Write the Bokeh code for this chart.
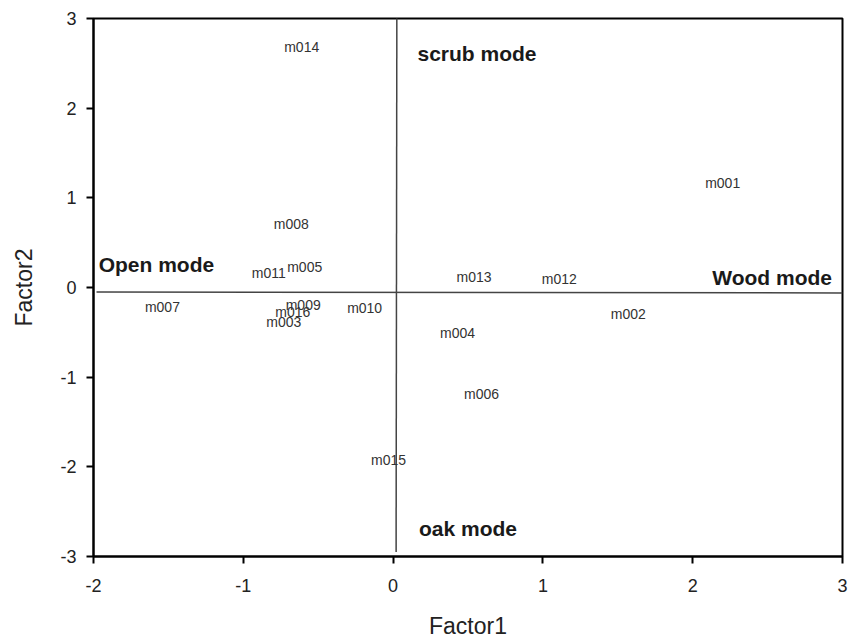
from bokeh.plotting import figure
from bokeh.models import ColumnDataSource, Range1d, FixedTicker, PrintfTickFormatter
from bokeh.core.properties import value
from bokeh.embed import file_html
from bokeh.resources import INLINE

# Site scores (Factor1, Factor2)
sites = ["m001", "m002", "m003", "m004", "m005", "m006", "m007", "m008",
         "m009", "m010", "m011", "m012", "m013", "m014", "m015", "m016"]
factor1 = [2.20, 1.57, -0.73, 0.43, -0.59, 0.59, -1.54, -0.68,
           -0.60, -0.19, -0.83, 1.11, 0.54, -0.61, -0.03, -0.67]
factor2 = [1.17, -0.29, -0.38, -0.51, 0.23, -1.19, -0.22, 0.71,
           -0.19, -0.23, 0.16, 0.10, 0.12, 2.68, -1.92, -0.27]

# Mode labels
modes = ["scrub mode", "Wood mode", "Open mode", "oak mode"]
mode_x = [0.56, 2.53, -1.58, 0.50]
mode_y = [2.61, 0.11, 0.26, -2.69]

# Reference axes drawn inside the plot
h_line_x = [-1.98, 3.0]
h_line_y = [-0.05, -0.06]
v_line_x = [0.025, 0.02]
v_line_y = [3.03, -2.95]

x_ticks = [-2, -1, 0, 1, 2, 3]
y_ticks = [-3, -2, -1, 0, 1, 2, 3]

p = figure(width=852, height=643, output_backend="svg", toolbar_location=None,
           x_range=Range1d(-2, 3), y_range=Range1d(-3, 3),
           min_border_left=93, min_border_top=18, min_border_right=10,
           min_border_bottom=87)
p.xgrid.visible = False
p.ygrid.visible = False
p.outline_line_color = "black"
p.outline_line_width = 2
p.background_fill_color = "white"

for ax in (p.xaxis[0], p.yaxis[0]):
    ax.major_tick_in = 0
    ax.major_tick_out = 7
    ax.minor_tick_line_color = None
    ax.axis_line_width = 2
    ax.major_tick_line_width = 2
    ax.axis_line_color = "black"
    ax.major_tick_line_color = "black"
    ax.major_label_text_font = "Liberation Sans"
    ax.major_label_text_font_size = "18px"
    ax.major_label_text_color = "#222222"
    ax.axis_label_text_font = "Liberation Sans"
    ax.axis_label_text_font_size = "23px"
    ax.axis_label_text_font_style = "normal"
    ax.axis_label_text_color = "#222222"
    ax.formatter = PrintfTickFormatter(format="%d")

p.xaxis.ticker = FixedTicker(ticks=x_ticks)
p.yaxis.ticker = FixedTicker(ticks=y_ticks)
p.xaxis.axis_label = "Factor1"
p.yaxis.axis_label = "Factor2"
p.xaxis.major_label_standoff = 15
p.yaxis.major_label_standoff = 10
p.xaxis.axis_label_standoff = 18
p.yaxis.axis_label_standoff = 20

p.line(h_line_x, h_line_y, line_color="#444444", line_width=1.5)
p.line(v_line_x, v_line_y, line_color="#444444", line_width=1.5)

src = ColumnDataSource(dict(x=factor1, y=factor2, t=sites))
p.text("x", "y", text="t", source=src, text_align="center",
       text_baseline="middle", text_font=value("Liberation Sans"),
       text_font_size="14px", text_color="#333333")

msrc = ColumnDataSource(dict(x=mode_x, y=mode_y, t=modes))
p.text("x", "y", text="t", source=msrc, text_align="center",
       text_baseline="middle", text_font=value("Liberation Sans"),
       text_font_size="21px", text_font_style="bold", text_color="#1a1a1a")

open("out.html", "w").write(file_html(p, INLINE))
